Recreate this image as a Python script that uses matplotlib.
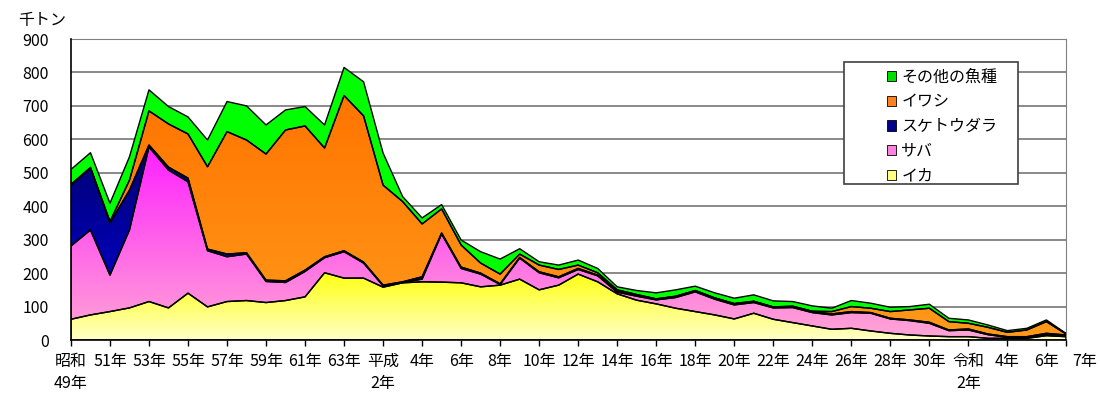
import numpy as np
import matplotlib
matplotlib.use('Agg')
import matplotlib.pyplot as plt
from matplotlib.colors import LinearSegmentedColormap
from matplotlib.patches import Patch, Rectangle
from matplotlib.transforms import ScaledTranslation

plt.rcParams['font.family'] = ['Noto Sans CJK JP', 'DejaVu Sans']

years = list(range(1974, 2026))

# 千トン
ika = [62, 75, 85, 96, 115, 96, 140, 99, 115, 118, 112, 118, 129, 201, 185, 185, 158, 171,
       174, 173, 171, 159, 164, 182, 150, 164, 197, 174, 138, 119, 108, 95, 85, 75, 63, 80,
       62, 52, 42, 32, 35, 27, 20, 15, 12, 10, 10, 5, 5, 5, 13, 10]
saba = [219, 254, 109, 233, 462, 412, 333, 168, 134, 139, 63, 54, 76, 45, 79, 45, 4, 1,
        8, 144, 43, 38, 2, 63, 51, 22, 14, 18, 5, 12, 12, 32, 59, 47, 42, 32,
        34, 45, 40, 43, 47, 53, 43, 43, 38, 18, 20, 11, 3, 3, 4, 3]
suketou = [182, 185, 156, 119, 6, 9, 11, 5, 8, 4, 4, 5, 4, 3, 3, 3, 2, 2,
           7, 3, 4, 3, 2, 2, 3, 3, 3, 2, 2, 3, 2, 3, 3, 3, 3, 3,
           2, 3, 3, 3, 3, 2, 2, 2, 3, 2, 3, 2, 2, 2, 3, 2]
iwashi = [2, 2, 4, 30, 102, 129, 132, 246, 366, 337, 377, 451, 431, 325, 464, 437, 299, 240,
          158, 72, 66, 30, 29, 10, 20, 22, 10, 7, 5, 2, 1, 1, 1, 1, 1, 1,
          1, 1, 1, 7, 15, 13, 20, 30, 42, 25, 17, 20, 13, 20, 35, 3]
sonota = [45, 44, 55, 70, 63, 52, 51, 80, 90, 102, 87, 60, 58, 69, 84, 102, 96, 15,
          18, 13, 15, 34, 45, 16, 10, 13, 15, 13, 9, 12, 18, 19, 13, 15, 16, 19,
          18, 14, 16, 10, 18, 15, 13, 10, 12, 10, 10, 7, 5, 5, 5, 2]

series_names = ['イカ', 'サバ', 'スケトウダラ', 'イワシ', 'その他の魚種']
series_vals = [ika, saba, suketou, iwashi, sonota]
# (bottom colour, top colour) of the gradient
series_cols = [('#FFFFC8', '#FFFF10'), ('#FFA8D4', '#FF20FF'), ('#0000E0', '#000070'),
               ('#FF9A1A', '#FF7400'), ('#00FF00', '#00FF00')]
legend_cols = ['#FFFF80', '#FF80E0', '#000090', '#FF8020', '#00E000']

tick_years = list(range(1974, 2025, 2)) + [2025]
tick_labels = ['昭和\n49年', '51年', '53年', '55年', '57年', '59年', '61年', '63年',
               '平成\n2年', '4年', '6年', '8年', '10年', '12年', '14年', '16年', '18年',
               '20年', '22年', '24年', '26年', '28年', '30年', '令和\n2年', '4年', '6年', '7年']

fig = plt.figure(figsize=(11, 3.98), dpi=100)
ax = fig.add_axes([0.0645, 0.1457, 0.9045, 0.7563])

x = np.array(years)
bottom = np.zeros(len(x))
grad = np.linspace(0, 1, 256).reshape(-1, 1)
for name, vals, (cb, ct) in zip(series_names, series_vals, series_cols):
    top = bottom + np.array(vals)
    poly = ax.fill_between(x, bottom, top, facecolor='none', edgecolor='black',
                           linewidth=1.0, zorder=3)
    cmap = LinearSegmentedColormap.from_list(name, [cb, ct])
    im = ax.imshow(grad, cmap=cmap, aspect='auto', origin='lower',
                   extent=[1974, 2025, 0, top.max()], zorder=2, interpolation='bilinear')
    im.set_clip_path(poly.get_paths()[0], transform=ax.transData)
    bottom = top

ax.set_xlim(1974, 2025)
ax.set_ylim(0, 900)
ax.set_yticks(range(0, 901, 100))
ax.yaxis.grid(True, color='#808080', linewidth=1.3)
ax.set_axisbelow(True)
ax.tick_params(axis='y', length=0, pad=16, labelsize=11.5)
ax.set_xticks(tick_years)
ax.set_xticklabels(tick_labels, fontsize=11.5, linespacing=1.4)
ax.tick_params(axis='x', length=4, width=1, pad=5, direction='out')
for lab in ax.get_xticklabels():
    lab.set_verticalalignment('top')
last = ax.get_xticklabels()[-1]
last.set_horizontalalignment('left')
last.set_transform(last.get_transform() + ScaledTranslation(6 / 100, 0, fig.dpi_scale_trans))

ax.spines['left'].set_color('black')
ax.spines['bottom'].set_color('black')
ax.spines['left'].set_linewidth(1.2)
ax.spines['bottom'].set_linewidth(1.2)
ax.spines['top'].set_color('#808080')
ax.spines['right'].set_color('#808080')
ax.spines['top'].set_zorder(1)

fig.text(18 / 1100, 1 - 20 / 398, '千トン', fontsize=11.5, va='center', ha='left')

# legend box
fig.patches.append(Rectangle((844 / 1100, 1 - 184 / 398), 174 / 1100, 122 / 398,
                             transform=fig.transFigure, facecolor='white',
                             edgecolor='#404040', linewidth=1.2, zorder=5))
handles = [Patch(facecolor=c, edgecolor='black', linewidth=0.6) for c in legend_cols]
leg = fig.legend(handles[::-1], series_names[::-1], loc='upper left',
                 bbox_to_anchor=(874 / 1100, 1 - 56 / 398), frameon=False,
                 fontsize=11.5, handlelength=0.6, handleheight=0.6,
                 handletextpad=0.3, labelspacing=0.48, borderpad=0.3)
leg.set_zorder(6)

fig.savefig('out.png', dpi=100)
